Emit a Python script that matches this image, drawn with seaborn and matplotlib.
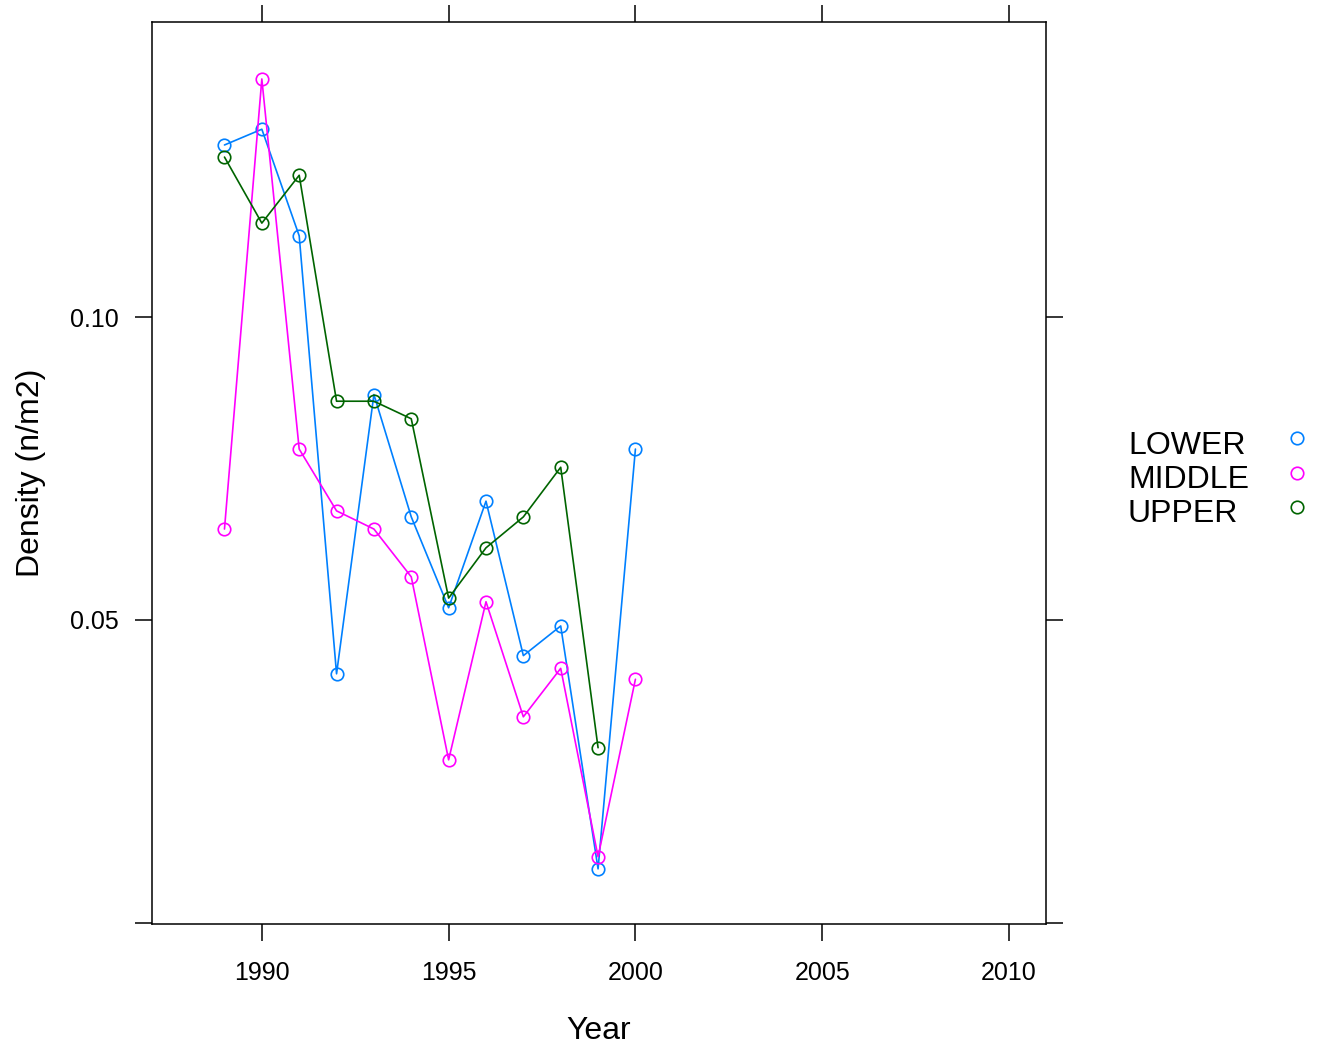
import matplotlib
matplotlib.use("Agg")
import matplotlib.pyplot as plt
import seaborn as sns
import pandas as pd
from matplotlib.lines import Line2D

sns.set_style("white")
plt.rcParams['font.family'] = ['Liberation Sans', 'DejaVu Sans']
plt.rcParams['text.color'] = 'black'
plt.rcParams['axes.labelcolor'] = 'black'
plt.rcParams['xtick.color'] = 'black'
plt.rcParams['ytick.color'] = 'black'

years = [1989, 1990, 1991, 1992, 1993, 1994, 1995, 1996, 1997, 1998, 1999, 2000]
lower = [0.1284, 0.1310, 0.1134, 0.0411, 0.0872, 0.0670, 0.0520, 0.0696, 0.0441, 0.0490, 0.0089, 0.0782]
middle = [0.0650, 0.1393, 0.0782, 0.0680, 0.0650, 0.0571, 0.0269, 0.0530, 0.0340, 0.0420, 0.0109, 0.0402]
upper_years = [1989, 1990, 1991, 1992, 1993, 1994, 1995, 1996, 1997, 1998, 1999]
upper = [0.1264, 0.1155, 0.1234, 0.0861, 0.0861, 0.0832, 0.0536, 0.0619, 0.0670, 0.0752, 0.0289]
zones = ["LOWER", "MIDDLE", "UPPER"]
colors = ["#0080ff", "#ff00ff", "#006400"]
x_ticks = [1990, 1995, 2000, 2005, 2010]
y_ticks = [0.0, 0.05, 0.10]
y_tick_labels = ["", "0.05", "0.10"]

df = pd.concat([
    pd.DataFrame({"Year": years, "Density": lower, "Zone": "LOWER"}),
    pd.DataFrame({"Year": years, "Density": middle, "Zone": "MIDDLE"}),
    pd.DataFrame({"Year": upper_years, "Density": upper, "Zone": "UPPER"}),
])

W, H = 1319, 1047
fig = plt.figure(figsize=(W / 100, H / 100), dpi=100)
ax = fig.add_axes([152 / W, (H - 924) / H, (1046 - 152) / W, (924 - 22) / H])

for z, c in zip(zones, colors):
    sub = df[df["Zone"] == z]
    sns.lineplot(data=sub, x="Year", y="Density", ax=ax, color=c, lw=1.2,
                 marker="o", markersize=9, markerfacecolor="none",
                 markeredgecolor=c, markeredgewidth=1.2, legend=False)

ax.set_xlim(1987.06, 2010.99)
ax.set_ylim(-0.0002, 0.1487)
ax.set_xticks(x_ticks)
ax.set_xticklabels([str(t) for t in x_ticks])
ax.set_yticks(y_ticks)
ax.set_yticklabels(y_tick_labels)
ax.tick_params(axis="both", which="both", direction="out", length=12, width=1.1,
               color="black", labelsize=18, labelcolor="black",
               top=True, right=True, labeltop=False, labelright=False,
               bottom=True, left=True)
ax.tick_params(axis="x", pad=15)
ax.tick_params(axis="y", pad=12)
for s in ax.spines.values():
    s.set_color("black")
    s.set_linewidth(1.1)
ax.set_xlabel("Year", fontsize=23, labelpad=22)
ax.set_ylabel("Density (n/m2)", fontsize=23, labelpad=17)

# legend: markers at right, labels left-aligned
handles = [Line2D([], [], linestyle="none", marker="o", markersize=9,
                  markerfacecolor="none", markeredgecolor=c, markeredgewidth=1.2)
           for c in colors]
leg = fig.legend(handles, ["", "", ""], loc="center right",
                 bbox_to_anchor=(1307 / W, 1 - 476 / H),
                 frameon=False, fontsize=23, markerfirst=False,
                 handlelength=0.6, handletextpad=0.0, labelspacing=0.14,
                 borderpad=0.0, borderaxespad=0.0)
label_baselines = [454, 488, 522]
for z, yb in zip(zones, label_baselines):
    fig.text(1128 / W, 1 - yb / H, z, fontsize=23, ha="left", va="baseline",
             color="black")

fig.savefig("out.png", dpi=100)
